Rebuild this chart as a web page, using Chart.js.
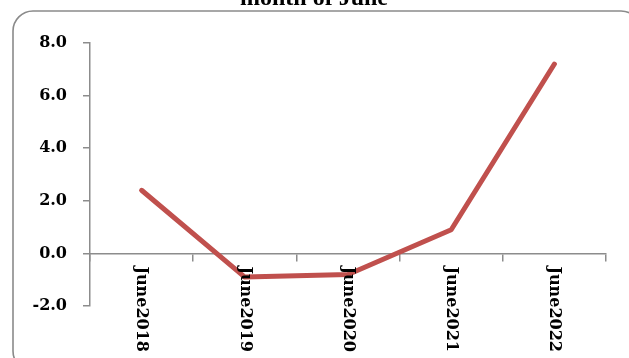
<!DOCTYPE html>
<html>
<head>
<meta charset="utf-8">
<script src="https://cdn.jsdelivr.net/npm/chart.js@4/dist/chart.umd.min.js"></script>
<style>
  html, body { margin: 0; padding: 0; background: #ffffff; }
  #wrap { position: relative; width: 629px; height: 358px; overflow: hidden; }
  canvas { display: block; }
</style>
</head>
<body>
<div id="wrap"><canvas id="c" width="629" height="358"></canvas></div>
<script>
// June readings by year
const categories = ['June2018', 'June2019', 'June2020', 'June2021', 'June2022'];
const values = [2.4, -0.9, -0.8, 0.9, 7.2];
const yTicks = [-2, 0, 2, 4, 6, 8];
const titleText = 'month of June';

const AXIS_GREY = '#8c8c8c';
const LABEL_FONT = 'bold 16px "DejaVu Serif", serif';

// Rounded frame around the chart plus the (partly clipped) heading
const framePlugin = {
  id: 'frame',
  beforeDraw(chart) {
    const ctx = chart.ctx;
    ctx.save();
    ctx.strokeStyle = '#8a8a8a';
    ctx.lineWidth = 1.6;
    const x = 13, y = 11, w = 628, h = 360, r = 20;
    ctx.beginPath();
    ctx.moveTo(x + r, y);
    ctx.lineTo(x + w - r, y);
    ctx.arcTo(x + w, y, x + w, y + r, r);
    ctx.lineTo(x + w, y + h - r);
    ctx.arcTo(x + w, y + h, x + w - r, y + h, r);
    ctx.lineTo(x + r, y + h);
    ctx.arcTo(x, y + h, x, y + h - r, r);
    ctx.lineTo(x, y + r);
    ctx.arcTo(x, y, x + r, y, r);
    ctx.closePath();
    ctx.stroke();

    ctx.fillStyle = '#000000';
    ctx.font = 'bold 24px "Liberation Serif", serif';
    ctx.textAlign = 'center';
    ctx.textBaseline = 'alphabetic';
    ctx.fillText(titleText, 314, 5);
    ctx.restore();
  }
};

// Category labels drawn rotated clockwise, hanging below the zero line
const xLabelPlugin = {
  id: 'xLabels',
  afterDraw(chart) {
    const ctx = chart.ctx;
    const xs = chart.scales.x;
    const ys = chart.scales.y;
    const top = ys.getPixelForValue(0) + 13;
    ctx.save();
    ctx.fillStyle = '#000000';
    ctx.font = LABEL_FONT;
    ctx.textAlign = 'left';
    ctx.textBaseline = 'middle';
    categories.forEach((label, i) => {
      const px = xs.getPixelForValue(i);
      ctx.save();
      ctx.translate(px, top);
      ctx.rotate(Math.PI / 2);
      ctx.fillText(label, 0, 0);
      ctx.restore();
    });
    ctx.restore();
  }
};

new Chart(document.getElementById('c'), {
  type: 'line',
  data: {
    labels: categories,
    datasets: [{
      data: values,
      borderColor: '#c0504d',
      borderWidth: 5,
      pointRadius: 0,
      pointHoverRadius: 0,
      tension: 0,
      borderCapStyle: 'round',
      borderJoinStyle: 'round',
      fill: false
    }]
  },
  options: {
    responsive: false,
    animation: false,
    events: [],
    layout: { padding: { left: 12, top: 43, right: 23, bottom: 52 } },
    plugins: {
      legend: { display: false },
      title: { display: false },
      tooltip: { enabled: false }
    },
    scales: {
      x: {
        type: 'category',
        position: { y: 0 },
        offset: true,
        grid: {
          offset: true,
          drawOnChartArea: false,
          drawTicks: true,
          tickLength: 7,
          color: AXIS_GREY,
          lineWidth: 1.5
        },
        border: { display: true, color: AXIS_GREY, width: 1.5 },
        ticks: { display: false }
      },
      y: {
        min: -2,
        max: 8,
        afterBuildTicks(scale) {
          scale.ticks = yTicks.map(v => ({ value: v }));
        },
        afterFit(scale) { scale.width = 78; },
        grid: {
          drawOnChartArea: false,
          drawTicks: true,
          tickLength: 7,
          color: AXIS_GREY,
          lineWidth: 1.5
        },
        border: { display: true, color: AXIS_GREY, width: 1.5 },
        ticks: {
          padding: 16,
          color: '#000000',
          font: { family: '"DejaVu Serif", serif', size: 16, weight: 'bold' },
          callback: v => Number(v).toFixed(1)
        }
      }
    }
  },
  plugins: [framePlugin, xLabelPlugin]
});
</script>
</body>
</html>
